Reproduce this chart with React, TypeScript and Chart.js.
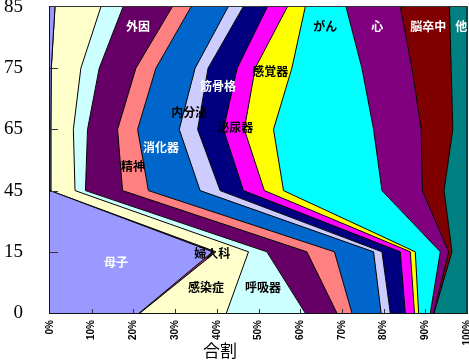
import { useEffect, useRef } from 'react';
import { Chart, registerables } from 'chart.js';

Chart.register(...registerables);

// Age categories (y axis, bottom to top)
const ages = ['0', '15', '45', '65', '75', '85'];
// X tick values (percent)
const pctTicks = [0, 10, 20, 30, 40, 50, 60, 70, 80, 90, 100];

// Share of each cause (%) at ages 0, 15, 45, 65, 75, 85
const boshi = [21.4, 39.0, 0, 0.2, 0.3, 1.2];
const fujinka = [0.2, 0.8, 0, 0, 0, 0];
const kansensho = [20.7, 7.8, 6.0, 5.4, 7.1, 11.0];
const kokyuki = [18.9, 4.4, 2.5, 3.4, 4.4, 5.3];
const gaiin = [7.6, 9.6, 8.9, 7.2, 8.8, 11.8];
const seishin = [3.6, 6.6, 6.2, 4.8, 4.8, 4.5];
const shokaki = [7.0, 9.4, 12.4, 10.0, 9.4, 8.9];
const naibunpi = [2.2, 2.0, 4.8, 4.4, 3.1, 3.6];
const kinkokkaku = [3.6, 4.4, 5.6, 6.2, 7.0, 5.8];
const hinyoki = [2.2, 2.4, 5.0, 5.0, 4.3, 4.8];
const kankaku = [1.0, 1.2, 4.6, 7.0, 8.8, 4.3];
const gan = [2.8, 6.0, 23.6, 24.0, 16.8, 9.8];
const shin = [0.8, 2.0, 9.7, 11.4, 12.0, 13.0];
const nosotchu = [0.1, 0.8, 5.2, 7.6, 9.4, 11.8];
const hoka = [7.9, 3.6, 5.5, 3.4, 3.8, 4.2];

const causeNames = ['母子', '婦人科', '感染症', '呼吸器', '外因', '精神', '消化器', '内分泌', '筋骨格', '泌尿器', '感覚器', 'がん', '心', '脳卒中', '他'];
const causeValues = [boshi, fujinka, kansensho, kokyuki, gaiin, seishin, shokaki, naibunpi, kinkokkaku, hinyoki, kankaku, gan, shin, nosotchu, hoka];
const causeColors = ['#9999FF', '#993366', '#FFFFCC', '#CCFFFF', '#660066', '#FF8080', '#0066CC', '#CCCCFF', '#000080', '#FF00FF', '#FFFF00', '#00FFFF', '#800080', '#800000', '#008080'];

// Area label anchors: [text, percent, age index (fractional), color]
const areaLabels: [string, number, number, string][] = [
  ['外因', 21.1, 4.69, '#FFFFFF'],
  ['精神', 19.9, 2.4, '#000000'],
  ['消化器', 26.6, 2.71, '#FFFFFF'],
  ['内分泌', 33.4, 3.28, '#000000'],
  ['筋骨格', 40.3, 3.71, '#FFFFFF'],
  ['泌尿器', 44.4, 3.04, '#000000'],
  ['感覚器', 52.8, 3.95, '#000000'],
  ['がん', 66.0, 4.69, '#000000'],
  ['心', 78.5, 4.69, '#FFFFFF'],
  ['脳卒中', 90.7, 4.69, '#FFFFFF'],
  ['他', 98.6, 4.69, '#FFFFFF'],
  ['母子', 15.8, 0.82, '#FFFFFF'],
  ['婦人科', 38.9, 0.98, '#000000'],
  ['感染症', 37.4, 0.42, '#000000'],
  ['呼吸器', 51.1, 0.42, '#000000'],
];

const xTitle = '合割';

const decorPlugin = {
  id: 'decor',
  afterDatasetsDraw(chart: any) {
    const { ctx, chartArea } = chart;
    const xs = chart.scales.x;
    const ys = chart.scales.y;
    ctx.save();
    // area labels
    ctx.font = 'bold 12px "Noto Sans CJK JP"';
    ctx.textAlign = 'center';
    ctx.textBaseline = 'middle';
    areaLabels.forEach(([t, p, a, c]) => {
      ctx.fillStyle = c;
      ctx.fillText(t, xs.getPixelForValue(p), ys.getPixelForValue(a));
    });
    // inward tick marks
    ctx.strokeStyle = '#333';
    ctx.lineWidth = 1;
    ctx.beginPath();
    ages.forEach((_, i) => {
      if (i === 0 || i === ages.length - 1) return;
      const y = Math.round(ys.getPixelForValue(i)) + 0.5;
      ctx.moveTo(chartArea.left, y);
      ctx.lineTo(chartArea.left + 8, y);
    });
    pctTicks.forEach((v, i) => {
      if (i === 0 || i === pctTicks.length - 1) return;
      const x = Math.round(xs.getPixelForValue(v)) + 0.5;
      ctx.moveTo(x, chartArea.bottom);
      ctx.lineTo(x, chartArea.bottom - 4);
    });
    ctx.stroke();
    // top and right frame
    ctx.strokeStyle = '#333';
    ctx.beginPath();
    ctx.moveTo(chartArea.left, chartArea.top - 0.5);
    ctx.lineTo(chartArea.right + 0.5, chartArea.top - 0.5);
    ctx.lineTo(chartArea.right + 0.5, chartArea.bottom);
    ctx.stroke();
    // axis title
    ctx.fillStyle = '#000';
    ctx.font = '17px "Noto Sans CJK JP"';
    ctx.textAlign = 'center';
    ctx.textBaseline = 'middle';
    ctx.fillText(xTitle, 220, 351);
    ctx.restore();
  },
};

const zeroPad = (s: any) => {
  s.paddingTop = 0;
  s.paddingBottom = 0;
  s.paddingLeft = 0;
  s.paddingRight = 0;
};

export default function App() {
  const ref = useRef<HTMLCanvasElement>(null);
  useEffect(() => {
    const chart = new Chart(ref.current!, {
      type: 'line',
      data: {
        labels: ages,
        datasets: causeNames.map((n, i) => ({
          label: n,
          data: causeValues[i],
          backgroundColor: causeColors[i],
          borderColor: '#000000',
          borderWidth: 1,
          pointRadius: 0,
          tension: 0,
          fill: i === 0 ? 'origin' : '-1',
        })),
      },
      options: {
        indexAxis: 'y',
        responsive: false,
        animation: false,
        events: [],
        layout: { padding: { top: 7, right: 2, left: 0, bottom: 0 } },
        plugins: { legend: { display: false }, tooltip: { enabled: false } },
        scales: {
          x: {
            type: 'linear',
            stacked: true,
            min: 0,
            max: 100,
            afterBuildTicks: (s: any) => {
              s.ticks = pctTicks.map((v) => ({ value: v }));
            },
            afterFit: (s: any) => {
              s.height = 48;
              zeroPad(s);
            },
            grid: { display: false, drawTicks: false },
            border: { display: true, color: '#111', width: 2 },
            ticks: {
              autoSkip: false,
              minRotation: 90,
              maxRotation: 90,
              padding: 7,
              color: '#000',
              font: { family: 'Liberation Sans', size: 10, weight: 'bold' },
              callback: (v: any) => v + '%',
            },
          },
          y: {
            type: 'category',
            reverse: true,
            offset: false,
            afterFit: (s: any) => {
              s.width = 50;
              zeroPad(s);
            },
            grid: { display: false, drawTicks: false },
            border: { display: true, color: '#111', width: 2 },
            ticks: {
              padding: 27,
              color: '#000',
              font: { family: 'Liberation Serif', size: 19 },
            },
          },
        },
      },
      plugins: [decorPlugin],
    } as any);
    return () => chart.destroy();
  }, []);
  return (
    <div style={{ position: 'absolute', left: 0, top: 0, width: 469, height: 361 }}>
      <canvas ref={ref} width={469} height={361} />
    </div>
  );
}
